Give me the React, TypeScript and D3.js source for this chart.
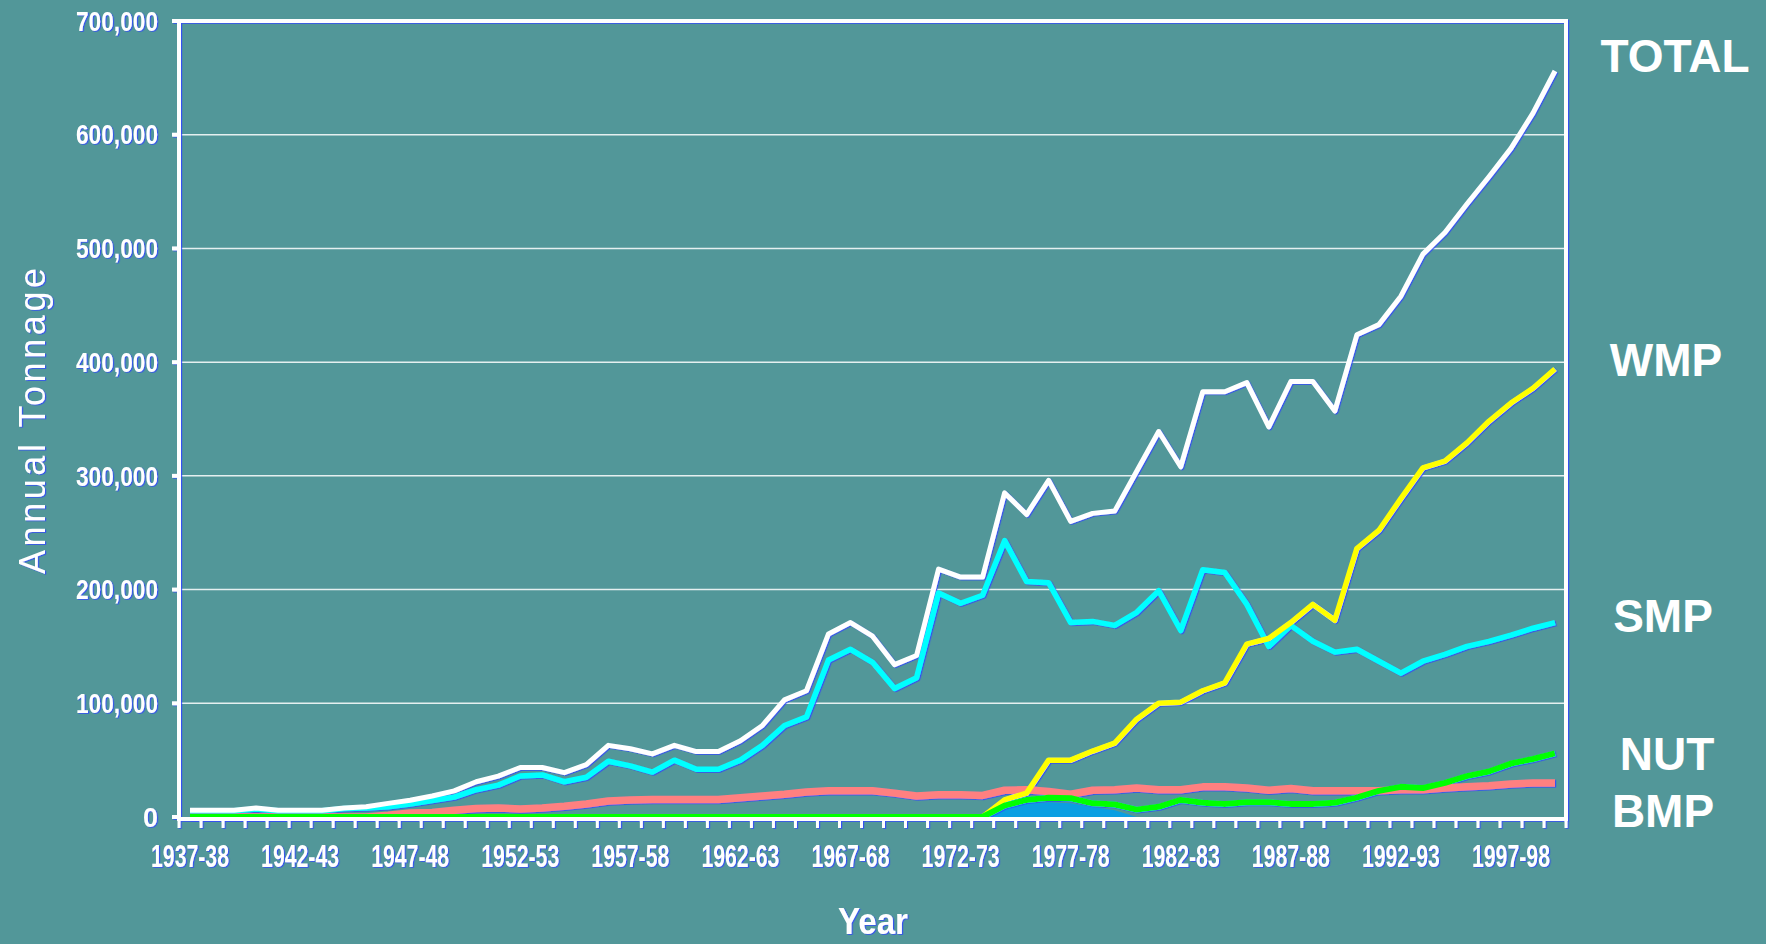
import React, { useEffect, useRef } from 'react';
import * as d3 from 'd3';

// season labels, one per band on the category axis
const years = [
    '1937-38', '1938-39', '1939-40', '1940-41', '1941-42', '1942-43', '1943-44', '1944-45', '1945-46', '1946-47',
    '1947-48', '1948-49', '1949-50', '1950-51', '1951-52', '1952-53', '1953-54', '1954-55', '1955-56', '1956-57',
    '1957-58', '1958-59', '1959-60', '1960-61', '1961-62', '1962-63', '1963-64', '1964-65', '1965-66', '1966-67',
    '1967-68', '1968-69', '1969-70', '1970-71', '1971-72', '1972-73', '1973-74', '1974-75', '1975-76', '1976-77',
    '1977-78', '1978-79', '1979-80', '1980-81', '1981-82', '1982-83', '1983-84', '1984-85', '1985-86', '1986-87',
    '1987-88', '1988-89', '1989-90', '1990-91', '1991-92', '1992-93', '1993-94', '1994-95', '1995-96', '1996-97',
    '1997-98', '1998-99', '1999-00'
];

const total = [
    6000, 6000, 6000, 8000, 6000, 6000, 6000, 8000, 9000, 12000,
    14700, 18500, 23000, 31000, 36000, 43500, 43500, 39000, 46000, 63000,
    60000, 55500, 63000, 57500, 57500, 67000, 80500, 103000, 111000, 161000,
    171000, 159000, 134000, 142000, 218000, 211000, 211000, 285000, 266000, 296000,
    260000, 267000, 269000, 304000, 339000, 308000, 374000, 374000, 382000, 343000,
    383000, 383000, 357000, 424000, 433000, 458000, 495000, 514000, 539000, 563000,
    588000, 619000, 656000
];

const smp = [
    5500, 5500, 5500, 7000, 5500, 5500, 5500, 7500, 8000, 9000,
    11500, 14500, 17500, 24000, 28000, 36000, 37000, 31000, 35000, 49000,
    45000, 39500, 50000, 42000, 42000, 50000, 63000, 80500, 88000, 138000,
    147500, 136000, 113000, 122500, 197000, 188000, 195000, 243000, 207000, 206000,
    171000, 172000, 168500, 180000, 199000, 164000, 217500, 215000, 187000, 150000,
    168500, 154500, 145000, 147500, 137000, 126500, 137000, 143000, 150000, 154500,
    160000, 166000, 171000
];

const wmp = [
    0, 0, 0, 0, 0, 0, 0, 0, 0, 0,
    0, 0, 0, 0, 0, 0, 0, 0, 0, 0,
    0, 0, 0, 0, 0, 0, 0, 0, 0, 0,
    0, 0, 0, 0, 0, 0, 0, 15000, 21000, 50000,
    50000, 58000, 65000, 86000, 100000, 101000, 111000, 118000, 152000, 157000,
    171000, 187000, 173000, 236000, 252000, 280000, 307000, 313000, 329000, 348000,
    364000, 377000, 394000
];

const nut = [
    0, 0, 0, 0, 0, 0, 0, 0, 0, 0,
    0, 0, 0, 0, 0, 0, 0, 0, 0, 0,
    0, 0, 0, 0, 0, 0, 0, 0, 0, 0,
    0, 0, 0, 0, 0, 0, 0, 10000, 15000, 17000,
    16500, 12000, 11000, 6500, 9000, 15000, 12500, 11500, 13000, 13000,
    11500, 11500, 12500, 17000, 23000, 26500, 25500, 30000, 36000, 40000,
    47000, 51000, 56000
];

const bmp = [
    0, 0, 0, 0, 0, 0, 0, 0, 0, 1500,
    3500, 4000, 6000, 7500, 8000, 7000, 8000, 9500, 11500, 14000,
    15000, 15300, 15300, 15300, 15300, 17000, 18500, 20000, 22000, 23000,
    23000, 23000, 21000, 18500, 19500, 19500, 19000, 23500, 24000, 22500,
    20000, 23500, 24000, 25500, 24000, 24000, 26500, 26500, 25500, 23500,
    25000, 23000, 23000, 23000, 23000, 24000, 24000, 25500, 26500, 27500,
    29000, 30000, 30000
];

// small blue filled series under NUT in the late 1970s
const other = [
    0, 0, 0, 0, 0, 0, 0, 0, 0, 0,
    0, 0, 0, 0, 0, 0, 0, 0, 0, 0,
    0, 0, 0, 0, 0, 0, 0, 0, 0, 0,
    0, 0, 0, 0, 0, 0, 0, 8000, 12000, 13000,
    12000, 9000, 6000, 0, 0, 0, 0, 0, 0, 0,
    0, 0, 0, 0, 0, 0, 0, 0, 0, 0,
    0, 0, 0
];

const yTicks = [0, 100000, 200000, 300000, 400000, 500000, 600000, 700000];

const seriesNames = ['TOTAL', 'WMP', 'SMP', 'NUT', 'BMP'];
const seriesLabelX = [1675, 1666, 1663, 1667, 1663];
const seriesLabelY = [72, 376, 632, 770, 827];

const W = 1766;
const H = 944;
const BG = '#529799';

export default function App() {
    const svgRef = useRef<SVGSVGElement>(null);

    useEffect(() => {
        if (!svgRef.current) return;
        const svg = d3.select(svgRef.current);
        svg.selectAll('*').remove();

        const left = 179, right = 1566, top = 21, bottom = 817;
        const narrow = "'Liberation Sans Narrow', 'Arial Narrow', 'Liberation Sans', Arial, sans-serif";
        const sans = "'Liberation Sans', Arial, sans-serif";

        const x = d3.scaleBand<string>().domain(years).range([left, right]);
        const y = d3.scaleLinear().domain([0, 700000]).range([bottom, top]);
        const cx = (i: number) => (x(years[i]) as number) + x.bandwidth() / 2;

        const defs = svg.append('defs');
        defs.append('filter')
            .attr('id', 'fringe')
            .attr('filterUnits', 'userSpaceOnUse')
            .attr('x', 0).attr('y', 0).attr('width', W).attr('height', H)
            .append('feDropShadow')
            .attr('dx', 1.2).attr('dy', 0.8).attr('stdDeviation', 0.3)
            .attr('flood-color', '#2f45ff').attr('flood-opacity', 0.85);

        svg.append('rect').attr('width', W).attr('height', H).attr('fill', BG);

        // gridlines
        svg.append('g')
            .selectAll('line')
            .data(yTicks.slice(1, -1))
            .enter()
            .append('line')
            .attr('x1', left).attr('x2', right)
            .attr('y1', d => y(d)).attr('y2', d => y(d))
            .attr('stroke', '#ffffff')
            .attr('stroke-opacity', 0.85)
            .attr('stroke-width', 1.5);

        // series
        const line = d3.line<number>().x((_, i) => cx(i)).y(d => y(d));
        const area = d3.area<number>().x((_, i) => cx(i)).y0(y(0)).y1(d => y(d));

        svg.append('path')
            .attr('d', area(other))
            .attr('fill', '#0a9fe2');

        const series = [
            { values: bmp, color: '#ff8080', width: 7.5 },
            { values: smp, color: '#00ffff', width: 5.5 },
            { values: wmp, color: '#ffff00', width: 5.5 },
            { values: nut, color: '#00ff00', width: 6 },
            { values: total, color: '#ffffff', width: 5 }
        ];

        svg.append('g')
            .attr('filter', 'url(#fringe)')
            .selectAll('path')
            .data(series)
            .enter()
            .append('path')
            .attr('d', d => line(d.values))
            .attr('fill', 'none')
            .attr('stroke', d => d.color)
            .attr('stroke-width', d => d.width)
            .attr('stroke-linejoin', 'round');

        // frame + ticks
        const frame = svg.append('g').attr('filter', 'url(#fringe)');
        frame.append('line').attr('x1', left).attr('x2', right + 2).attr('y1', top).attr('y2', top)
            .attr('stroke', '#fff').attr('stroke-width', 4);
        frame.append('line').attr('x1', right).attr('x2', right).attr('y1', top).attr('y2', bottom + 2)
            .attr('stroke', '#fff').attr('stroke-width', 4);
        frame.append('line').attr('x1', left).attr('x2', left).attr('y1', top - 2).attr('y2', bottom + 4)
            .attr('stroke', '#fff').attr('stroke-width', 4);
        frame.append('line').attr('x1', left - 2).attr('x2', right + 2).attr('y1', bottom + 2).attr('y2', bottom + 2)
            .attr('stroke', '#fff').attr('stroke-width', 4);

        frame.selectAll('.ytick')
            .data(yTicks)
            .enter()
            .append('line')
            .attr('x1', left - 7).attr('x2', left)
            .attr('y1', d => y(d)).attr('y2', d => y(d))
            .attr('stroke', '#fff').attr('stroke-width', 4);

        const bounds = years.map(d => x(d) as number).concat([right]);
        frame.selectAll('.xtick')
            .data(bounds)
            .enter()
            .append('line')
            .attr('x1', d => d).attr('x2', d => d)
            .attr('y1', bottom + 2).attr('y2', bottom + 11)
            .attr('stroke', '#fff').attr('stroke-width', 3);

        // tick labels
        const labels = svg.append('g').attr('filter', 'url(#fringe)').attr('fill', '#fff');
        labels.selectAll('.ylab')
            .data(yTicks)
            .enter()
            .append('text')
            .attr('x', 158)
            .attr('y', d => y(d))
            .attr('dy', '0.36em')
            .attr('text-anchor', 'end')
            .attr('font-family', narrow)
            .attr('font-weight', 'bold')
            .attr('font-size', 27)
            .each(function (d) {
                if (d > 0) d3.select(this).attr('textLength', 82).attr('lengthAdjust', 'spacingAndGlyphs');
            })
            .text(d => d3.format(',')(d));

        labels.selectAll('.xlab')
            .data(years.filter((_, i) => i % 5 === 0))
            .enter()
            .append('text')
            .attr('x', d => (x(d) as number) + x.bandwidth() / 2)
            .attr('y', 867)
            .attr('text-anchor', 'middle')
            .attr('font-family', narrow)
            .attr('font-weight', 'bold')
            .attr('font-size', 32)
            .attr('textLength', 78)
            .attr('lengthAdjust', 'spacingAndGlyphs')
            .text(d => d);

        // axis titles
        labels.append('text')
            .attr('x', 873).attr('y', 934)
            .attr('text-anchor', 'middle')
            .attr('font-family', narrow)
            .attr('font-weight', 'bold')
            .attr('font-size', 37)
            .attr('textLength', 70)
            .attr('lengthAdjust', 'spacingAndGlyphs')
            .text('Year');

        labels.append('text')
            .attr('transform', 'translate(45,421) rotate(-90)')
            .attr('text-anchor', 'middle')
            .attr('font-family', sans)
            .attr('font-size', 36)
            .attr('textLength', 306)
            .attr('lengthAdjust', 'spacing')
            .text('Annual Tonnage');

        // series names on the right
        svg.append('g')
            .selectAll('text')
            .data(seriesNames)
            .enter()
            .append('text')
            .attr('x', (_, i) => seriesLabelX[i])
            .attr('y', (_, i) => seriesLabelY[i])
            .attr('text-anchor', 'middle')
            .attr('font-family', sans)
            .attr('font-weight', 'bold')
            .attr('font-size', 46)
            .attr('fill', '#fff')
            .text(d => d);
    }, []);

    return (
        <div style={{ position: 'absolute', left: 0, top: 0, width: W, height: H, background: BG }}>
            <svg ref={svgRef} width={W} height={H} style={{ display: 'block' }} />
        </div>
    );
}
